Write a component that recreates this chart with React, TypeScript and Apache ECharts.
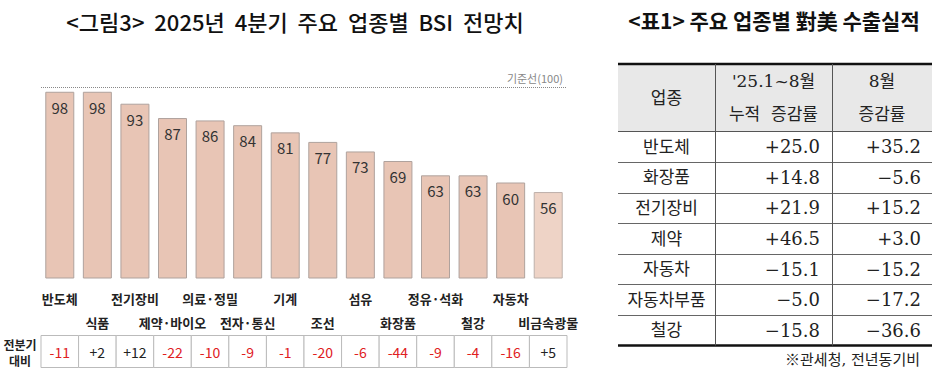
import React, { useEffect, useRef } from "react";
import * as echarts from "echarts";

const categories = ["반도체", "식품", "전기장비", "제약·바이오", "의료·정밀", "전자·통신", "기계", "조선", "섬유", "화장품", "정유·석화", "철강", "자동차", "비금속광물"];
const bsiValues = [98, 98, 93, 87, 86, 84, 81, 77, 73, 69, 63, 63, 60, 56];
const quarterChange = [-11, 2, 12, -22, -10, -9, -1, -20, -6, -44, -9, -4, -16, 5];
const baseline = 100;

const tableIndustries = ["반도체", "화장품", "전기장비", "제약", "자동차", "자동차부품", "철강"];
const cumulativeGrowth = [25.0, 14.8, 21.9, 46.5, -15.1, -5.0, -15.8];
const augustGrowth = [35.2, -5.6, 15.2, 3.0, -15.2, -17.2, -36.6];
const tableHeaders = ["업종", "'25.1~8월\n누적  증감률", "8월\n증감률"];

const leftTitle = "<그림3>  2025년  4분기  주요  업종별  BSI  전망치";
const rightTitle = "<표1> 주요 업종별 對美 수출실적";
const sourceNote = "※관세청, 전년동기비";

const SANS = "'Noto Sans CJK KR', 'Noto Sans', sans-serif";
const SERIF = "'DejaVu Serif', 'Liberation Serif', 'Noto Sans CJK KR', serif";

const fmt = (v: number) => (v > 0 ? "+" : "−") + Math.abs(v).toFixed(1);

function buildTable() {
  const L = 618, R = 932, c1 = 715, c2 = 832;
  const top = 64, headBottom = 131.5, bottom = 345.5;
  const rowH = (bottom - headBottom) / tableIndustries.length;
  const els: any[] = [];
  els.push({ type: "rect", shape: { x: L, y: top, width: R - L, height: headBottom - top }, style: { fill: "#E8E8E8" }, silent: true });
  els.push({ type: "line", shape: { x1: L, y1: top, x2: R, y2: top }, style: { stroke: "#111", lineWidth: 2.5 } });
  els.push({ type: "line", shape: { x1: L, y1: headBottom, x2: R, y2: headBottom }, style: { stroke: "#555", lineWidth: 1 } });
  for (let i = 1; i < tableIndustries.length; i++) {
    const y = Math.round(headBottom + rowH * i) + 0.5;
    els.push({ type: "line", shape: { x1: L, y1: y, x2: R, y2: y }, style: { stroke: "#666", lineWidth: 1 } });
  }
  els.push({ type: "line", shape: { x1: L, y1: bottom, x2: R, y2: bottom }, style: { stroke: "#111", lineWidth: 2.5 } });
  [c1, c2].forEach((x) => {
    els.push({ type: "line", shape: { x1: x + 0.5, y1: top, x2: x + 0.5, y2: bottom }, style: { stroke: "#555", lineWidth: 1 } });
  });
  const hx = [(L + c1) / 2, (c1 + c2) / 2, (c2 + R) / 2];
  tableHeaders.forEach((h, i) => {
    els.push({
      type: "text",
      style: { text: h, x: hx[i], y: (top + headBottom) / 2, align: "center", verticalAlign: "middle", textAlign: "center", textVerticalAlign: "middle", fill: "#222", font: `17px ${SERIF}`, lineHeight: 33 },
    });
  });
  tableIndustries.forEach((name, i) => {
    const cy = headBottom + rowH * (i + 0.5);
    els.push({ type: "text", style: { text: name, x: hx[0], y: cy, align: "center", verticalAlign: "middle", textAlign: "center", textVerticalAlign: "middle", fill: "#222", font: `17px ${SERIF}` } });
    els.push({ type: "text", style: { text: fmt(cumulativeGrowth[i]), x: c2 - 12, y: cy, align: "right", verticalAlign: "middle", textAlign: "right", textVerticalAlign: "middle", fill: "#222", font: `18px ${SERIF}` } });
    els.push({ type: "text", style: { text: fmt(augustGrowth[i]), x: R - 11, y: cy, align: "right", verticalAlign: "middle", textAlign: "right", textVerticalAlign: "middle", fill: "#222", font: `18px ${SERIF}` } });
  });
  els.push({ type: "text", style: { text: sourceNote, x: R - 12, y: 360, align: "right", verticalAlign: "middle", textAlign: "right", textVerticalAlign: "middle", fill: "#222", font: `15px ${SERIF}` } });
  return els;
}

export default function App() {
  const ref = useRef<HTMLDivElement>(null);
  useEffect(() => {
    if (!ref.current) return;
    const chart = echarts.init(ref.current, null, { renderer: "svg" });
    const option: any = {
      animation: false,
      backgroundColor: "#fff",
      grid: { left: 41, right: 374, top: 87, bottom: 96 },
      xAxis: {
        type: "category",
        data: categories,
        axisLine: { show: false },
        axisTick: { show: false },
        axisLabel: {
          interval: 0,
          margin: 8,
          lineHeight: 24,
          fontSize: 13,
          fontWeight: "bold",
          color: "#222",
          fontFamily: SANS,
          formatter: (v: string, i: number) => (i % 2 === 1 ? "\n" + v : v),
        },
      },
      yAxis: { type: "value", min: 20, max: 100, show: false, splitLine: { show: false } },
      series: [
        {
          type: "bar",
          data: bsiValues.map((v, i) => ({
            value: v,
            itemStyle: i === bsiValues.length - 1 ? { color: "#EED3C6", borderColor: "#BDB0AA" } : undefined,
          })),
          barWidth: 29,
          itemStyle: { color: "#E8C5B5", borderColor: "#AFA29D", borderWidth: 1 },
          label: { show: true, position: "insideTop", distance: 8, fontSize: 15, color: "#333", fontFamily: SANS },
          markLine: {
            silent: true,
            symbol: "none",
            lineStyle: { type: "dotted", color: "#888", width: 1 },
            label: { show: true, position: "insideEndTop", formatter: "기준선(100)", color: "#888", fontSize: 11, fontFamily: SANS, distance: 4 },
            data: [{ yAxis: baseline }],
          },
        },
        {
          type: "custom",
          clip: false,
          silent: true,
          data: quarterChange.map((c, i) => [i, c]),
          encode: { x: 0, y: 1 },
          renderItem: (params: any, api: any) => {
            const idx = api.value(0);
            const c = api.value(1);
            const cx = api.coord([idx, 20])[0];
            const w = api.size([1, 0])[0];
            return {
              type: "group",
              children: [
                { type: "rect", shape: { x: cx - w / 2, y: 335.5, width: w, height: 32 }, style: { fill: "#fff", stroke: "#BBBBBB", lineWidth: 1 } },
                {
                  type: "text",
                  style: {
                    text: (c > 0 ? "+" : "") + c,
                    x: cx,
                    y: 352,
                    align: "center",
                    verticalAlign: "middle",
                    textAlign: "center",
                    textVerticalAlign: "middle",
                    fill: c < 0 ? "#E0201E" : "#222",
                    font: `14px ${SANS}`,
                  },
                },
              ],
            };
          },
        },
      ],
      graphic: [
        { type: "text", style: { text: leftTitle, x: 295, y: 21, align: "center", verticalAlign: "middle", textAlign: "center", textVerticalAlign: "middle", fill: "#111", font: `500 22px ${SANS}` } },
        { type: "text", style: { text: rightTitle, x: 774, y: 20, align: "center", verticalAlign: "middle", textAlign: "center", textVerticalAlign: "middle", fill: "#111", font: `bold 21px ${SANS}` } },
        { type: "text", style: { text: "전분기\n대비", x: 20, y: 352, align: "center", verticalAlign: "middle", textAlign: "center", textVerticalAlign: "middle", fill: "#222", font: `bold 12px ${SANS}`, lineHeight: 16 } },
        ...buildTable(),
      ],
    };
    chart.setOption(option);
    return () => chart.dispose();
  }, []);
  return <div ref={ref} style={{ position: "fixed", left: 0, top: 0, width: 941, height: 374 }} />;
}
